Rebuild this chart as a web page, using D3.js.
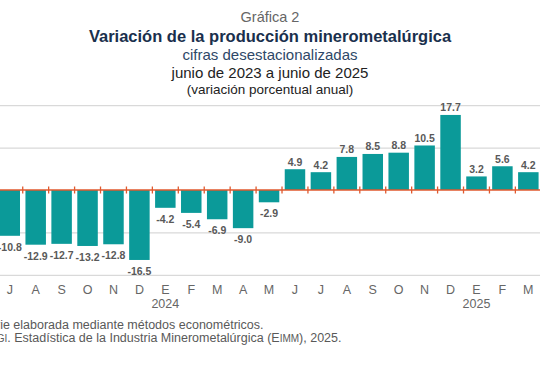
<!DOCTYPE html>
<html>
<head>
<meta charset="utf-8">
<script src="https://cdn.jsdelivr.net/npm/d3@7"></script>
<style>
  body { margin: 0; background: #fff; }
  svg { display: block; font-family: "Liberation Sans", Arial, sans-serif; }
</style>
</head>
<body>
<div id="chart"></div>
<script>
// months shown (the picture is a crop: jun 2023 and abr-jun 2025 are off the edges)
var months = ["2023-07", "2023-08", "2023-09", "2023-10", "2023-11", "2023-12",
              "2024-01", "2024-02", "2024-03", "2024-04", "2024-05", "2024-06",
              "2024-07", "2024-08", "2024-09", "2024-10", "2024-11", "2024-12",
              "2025-01", "2025-02", "2025-03"];
var monthLabels = ["J", "A", "S", "O", "N", "D", "E", "F", "M", "A", "M",
                   "J", "J", "A", "S", "O", "N", "D", "E", "F", "M"];
var values = [-10.8, -12.9, -12.7, -13.2, -12.8, -16.5, -4.2, -5.4, -6.9, -9.0, -2.9,
              4.9, 4.2, 7.8, 8.5, 8.8, 10.5, 17.7, 3.2, 5.6, 4.2];
var gridValues = [-20, -10, 10, 20];

var titles = [
    {text: "Gráfica 2", y: 22, size: 14.5, weight: "normal", color: "#666"},
    {text: "Variación de la producción minerometalúrgica", y: 42, size: 16.5, weight: "bold", color: "#1a304d"},
    {text: "cifras desestacionalizadas", y: 60, size: 15, weight: "normal", color: "#2e4868"},
    {text: "junio de 2023 a junio de 2025", y: 78, size: 15, weight: "normal", color: "#222"},
    {text: "(variación porcentual anual)", y: 94, size: 13.5, weight: "normal", color: "#222"}
];

var fullwidth = 540,
    fullheight = 370;

var svg = d3.select("#chart")
    .append("svg")
        .attr("width", fullwidth)
        .attr("height", fullheight);

svg.append("rect")
    .attr("width", fullwidth)
    .attr("height", fullheight)
    .attr("fill", "#fff");

// titles
svg.selectAll("text.title")
    .data(titles)
    .enter()
    .append("text")
        .attr("class", "title")
        .attr("x", 270)
        .attr("y", d => d.y)
        .attr("text-anchor", "middle")
        .style("font-size", d => d.size + "px")
        .style("font-weight", d => d.weight)
        .attr("fill", d => d.color)
        .text(d => d.text);

// scales
var xScale = d3.scaleBand()
    .domain(months)
    .range([-3.2, 541.3])
    .paddingInner(0.21)
    .paddingOuter(0.105);

var yScale = d3.scaleLinear()
    .domain([-20, 20])
    .range([274.8, 105.2]);

// grid lines
var yAxis = d3.axisLeft()
    .scale(yScale)
    .tickValues(gridValues)
    .tickSize(-fullwidth)
    .tickFormat("");
var grid = svg.append("g")
    .call(yAxis);
grid.select(".domain").remove();
grid.selectAll("line")
    .attr("stroke", "#d9d9d9")
    .attr("stroke-width", 1.2);

// bars
svg.selectAll("rect.bar")
    .data(values)
    .enter()
    .append("rect")
        .attr("class", "bar")
        .attr("x", (d, i) => xScale(months[i]))
        .attr("y", d => yScale(Math.max(0, d)))
        .attr("width", xScale.bandwidth())
        .attr("height", d => Math.abs(yScale(d) - yScale(0)))
        .attr("fill", "#0b9a99");

// zero line with ticks between months
var gap = (xScale.step() - xScale.bandwidth()) / 2;
svg.append("line")
    .attr("x1", 0)
    .attr("x2", fullwidth)
    .attr("y1", yScale(0))
    .attr("y2", yScale(0))
    .attr("stroke", "#e0592e")
    .attr("stroke-width", 1.6);
svg.selectAll("line.zerotick")
    .data(months)
    .enter()
    .append("line")
        .attr("class", "zerotick")
        .attr("x1", d => xScale(d) - gap)
        .attr("x2", d => xScale(d) - gap)
        .attr("y1", yScale(0) - 3.5)
        .attr("y2", yScale(0) + 3.5)
        .attr("stroke", "#e0592e")
        .attr("stroke-width", 1.3);

// value labels
svg.selectAll("text.value")
    .data(values)
    .enter()
    .append("text")
        .attr("class", "value")
        .attr("x", (d, i) => xScale(months[i]) + xScale.bandwidth() / 2)
        .attr("y", d => d >= 0 ? yScale(d) - 3.5 : yScale(d) + 15)
        .attr("text-anchor", "middle")
        .style("font-size", "10.5px")
        .style("font-weight", "bold")
        .attr("fill", "#595959")
        .text(d => d.toFixed(1));

// month labels
svg.selectAll("text.month")
    .data(monthLabels)
    .enter()
    .append("text")
        .attr("class", "month")
        .attr("x", (d, i) => xScale(months[i]) + xScale.bandwidth() / 2)
        .attr("y", 294)
        .attr("text-anchor", "middle")
        .style("font-size", "12.5px")
        .attr("fill", "#666")
        .text(d => d);

// year labels under january
svg.selectAll("text.year")
    .data(months.filter(m => m.endsWith("-01")))
    .enter()
    .append("text")
        .attr("class", "year")
        .attr("x", d => xScale(d) + xScale.bandwidth() / 2)
        .attr("y", 308)
        .attr("text-anchor", "middle")
        .style("font-size", "12.5px")
        .attr("fill", "#666")
        .text(d => d.slice(0, 4));

// notes (cut at the left edge like the reference)
svg.append("text")
    .attr("x", 263.5)
    .attr("y", 329)
    .attr("text-anchor", "end")
    .style("font-size", "12.5px")
    .attr("fill", "#595959")
    .text("Nota: Serie elaborada mediante métodos econométricos.");

var note2 = svg.append("text")
    .attr("x", 341.5)
    .attr("y", 342)
    .attr("text-anchor", "end")
    .style("font-size", "12.5px")
    .attr("fill", "#595959");
note2.append("tspan").text("Fuente: I");
note2.append("tspan").style("font-size", "10px").text("NEGI");
note2.append("tspan").text(". Estadística de la Industria Minerometalúrgica (E");
note2.append("tspan").style("font-size", "10px").text("IMM");
note2.append("tspan").text("), 2025.");
</script>
</body>
</html>
